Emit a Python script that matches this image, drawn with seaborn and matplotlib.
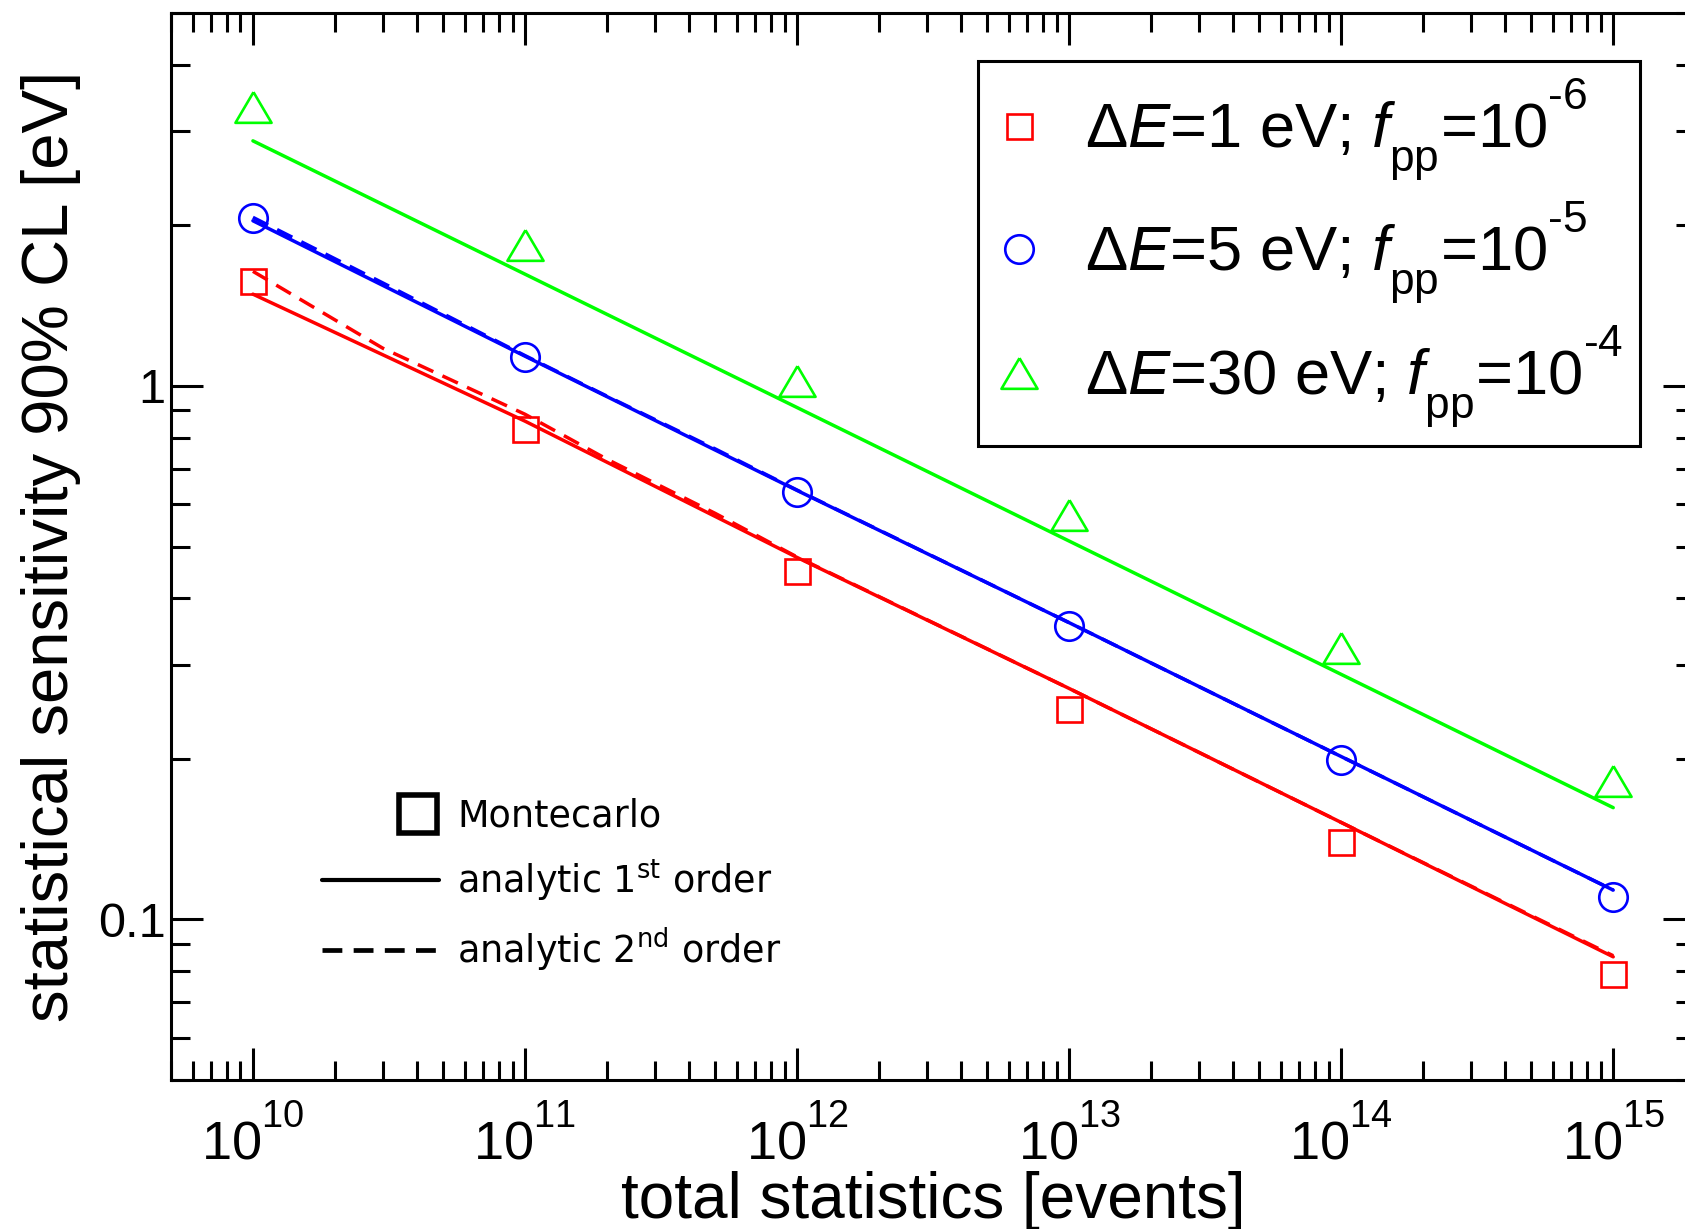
import numpy as np
import pandas as pd
import matplotlib
matplotlib.use("Agg")
import matplotlib.pyplot as plt
import seaborn as sns
from matplotlib.lines import Line2D
from matplotlib.legend_handler import HandlerLine2D
from matplotlib.font_manager import FontProperties
from matplotlib import font_manager
from matplotlib.ticker import FixedLocator, FixedFormatter, NullFormatter, LogLocator, LogFormatterSciNotation

# ---------------- data ----------------
events = [1e10, 1e11, 1e12, 1e13, 1e14, 1e15]
mc_red = [1.576, 0.830, 0.450, 0.248, 0.1397, 0.0789]
mc_blue = [2.063, 1.133, 0.632, 0.355, 0.1987, 0.1103]
mc_green = [3.34, 1.836, 1.023, 0.573, 0.322, 0.182]

first_red = [1.486, 0.859, 0.477, 0.271, 0.152, 0.0851]
first_blue = [2.04, 1.137, 0.637, 0.360, 0.202, 0.1135]
first_green = [2.88, 1.62, 0.911, 0.512, 0.288, 0.162]

events_2nd = [1e10, 3e10, 1e11, 2e11, 5e11, 1e12, 1e13, 1e14, 1e15]
second_red = [1.64, 1.177, 0.885, 0.729, 0.577, 0.478, 0.271, 0.152, 0.0855]
second_blue = [2.07, 1.56, 1.14, 0.957, 0.762, 0.638, 0.360, 0.202, 0.1135]

series_labels = [r"$\Delta E$=1 eV; $f_{\rm pp}$=10$^{\text{-}6}$",
                 r"$\Delta E$=5 eV; $f_{\rm pp}$=10$^{\text{-}5}$",
                 r"$\Delta E$=30 eV; $f_{\rm pp}$=10$^{\text{-}4}$"]
style_labels = ["Montecarlo", r"analytic 1$^{\rm st}$ order", r"analytic 2$^{\rm nd}$ order"]
y_major = [0.1, 1]
y_major_labels = ["0.1", "1"]

RED, BLUE, GREEN = "#ff0000", "#0000ff", "#00ff00"

# higher superscripts / lower subscripts for the Liberation fonts, as in the reference
try:
    import matplotlib._mathtext as _mt
    for _cls_name in ["DejaVuSansFontConstants", "DejaVuSerifFontConstants"]:
        _cls = getattr(_mt, _cls_name, None)
        if _cls is not None:
            _cls.sup1 = _cls.sup1
            _cls.sub1 = _cls.sub1
    _mt.FontConstantsBase.sup1 = 1.15
    _mt.FontConstantsBase.sub1 = 0.7
except Exception:
    pass


def has_font(name):
    try:
        font_manager.findfont(FontProperties(family=name), fallback_to_default=False)
        return True
    except Exception:
        return False


NARROW = "Liberation Sans Narrow" if has_font("Liberation Sans Narrow") else "Liberation Sans"

# ---------------- style ----------------
sns.set_theme(style="ticks")
plt.rcParams["font.family"] = ["Liberation Sans", "DejaVu Sans"]
plt.rcParams["mathtext.fontset"] = "custom"
plt.rcParams["mathtext.rm"] = "Liberation Sans"
plt.rcParams["mathtext.it"] = "Liberation Sans:italic"
plt.rcParams["mathtext.sf"] = "Liberation Sans"
plt.rcParams["mathtext.default"] = "it"
for k in ["text.color", "axes.labelcolor", "xtick.color", "ytick.color", "axes.edgecolor"]:
    plt.rcParams[k] = "black"

fig = plt.figure(figsize=(16.85, 12.29), dpi=100)
ax = fig.add_axes([0.1015, 0.1212, 0.9045, 0.8682])
ax.set_xscale("log")
ax.set_yscale("log")

LW = 2.5
# analytic lines
for y, c in [(first_red, RED), (first_blue, BLUE), (first_green, GREEN)]:
    sns.lineplot(x=events, y=y, color=c, lw=LW, estimator=None, sort=False, ax=ax)
for y, c in [(second_red, RED), (second_blue, BLUE)]:
    sns.lineplot(x=events_2nd, y=y, color=c, lw=LW, linestyle="--", estimator=None, sort=False, ax=ax)
    ax.get_lines()[-1].set_dashes((4.9, 2.9))

tri = [(0, 0.85), (-1, -0.85), (1, -0.85), (0, 0.85)]
marker_specs = [(mc_red, RED, "s", 18), (mc_blue, BLUE, "o", 20.5), (mc_green, GREEN, tri, 26)]
for y, c, m, ms in marker_specs:
    sns.lineplot(x=events, y=y, color=c, marker=m, linestyle="none", markersize=ms,
                 markerfacecolor="none", markeredgecolor=c, markeredgewidth=1.9,
                 estimator=None, sort=False, ax=ax)

ax.set_xlim(5e9, 2e15)
ax.set_ylim(0.05, 5)

# ticks
ax.xaxis.set_major_locator(LogLocator(base=10, numticks=20))
ax.xaxis.set_minor_locator(LogLocator(base=10, subs=np.arange(2, 10), numticks=20))
ax.xaxis.set_major_formatter(LogFormatterSciNotation())
ax.xaxis.set_minor_formatter(NullFormatter())
ax.yaxis.set_major_locator(FixedLocator(y_major))
ax.yaxis.set_major_formatter(FixedFormatter(y_major_labels))
ax.yaxis.set_minor_locator(LogLocator(base=10, subs=np.arange(2, 10), numticks=20))
ax.yaxis.set_minor_formatter(NullFormatter())

ax.tick_params(which="major", direction="in", length=23, width=2.2, top=True, right=True,
               colors="black")
ax.tick_params(which="minor", direction="in", length=13.5, width=2.2, top=True, right=True,
               colors="black")
ax.tick_params(axis="x", which="major", pad=19, labelsize=39, labelfontfamily=NARROW)
ax.tick_params(axis="y", which="major", pad=4, labelsize=35, labelfontfamily="Liberation Sans")
for sp in ax.spines.values():
    sp.set_linewidth(2.2)
    sp.set_color("black")
    sp.set_visible(True)
ax.grid(False)
ax.set_facecolor("white")

ax.set_xlabel("total statistics [events]", fontsize=56 if NARROW != "Liberation Sans" else 46,
              va="top", family=NARROW)
ax.xaxis.set_label_coords(0.5, -0.085)
ax.set_ylabel("statistical sensitivity 90% CL [eV]", fontsize=47)
ax.yaxis.set_label_coords(-0.059, 0.5)

# legend 1: series
h1 = [Line2D([], [], color=c, marker=m, linestyle="none", markersize=ms,
             markerfacecolor="none", markeredgecolor=c, markeredgewidth=1.9)
      for _, c, m, ms in marker_specs]
leg1 = ax.legend(h1, series_labels, loc="upper left", bbox_to_anchor=(0.5295, 0.955),
                 borderaxespad=0, borderpad=0.26, handlelength=0.78, handletextpad=0.66,
                 labelspacing=0.28, fancybox=False, framealpha=1, facecolor="white",
                 edgecolor="black", prop=FontProperties(family="Liberation Sans", size=45.5))
leg1.get_frame().set_linewidth(2.2)
ax.add_artist(leg1)


class RightMarkerHandler(HandlerLine2D):
    # single marker placed near the right end of the handle box
    def get_xdata(self, legend, xdescent, ydescent, width, height, fontsize):
        xdata = np.array([-xdescent + 0.652 * width, -xdescent + width], float)
        return xdata, np.array([-xdescent + 0.826 * width])


h_mc = Line2D([], [], color="black", marker="s", linestyle="none", markersize=28,
              markerfacecolor="none", markeredgecolor="black", markeredgewidth=4.0)
h_first = Line2D([], [], color="black", lw=3.0)
h_second = Line2D([], [], color="black", lw=3.4, dashes=(4.2, 2.4))
leg2 = ax.legend([h_mc, h_first, h_second], style_labels, loc="upper left",
                 bbox_to_anchor=(0.099, 0.265), borderaxespad=0, borderpad=0,
                 handlelength=3.2, handletextpad=0.5, labelspacing=0.62, frameon=False,
                 handler_map={h_mc: RightMarkerHandler(numpoints=1)},
                 prop=FontProperties(family="DejaVu Sans", size=26.3, math_fontfamily="dejavusans"))

fig.savefig("out.png", dpi=100, facecolor="white")
